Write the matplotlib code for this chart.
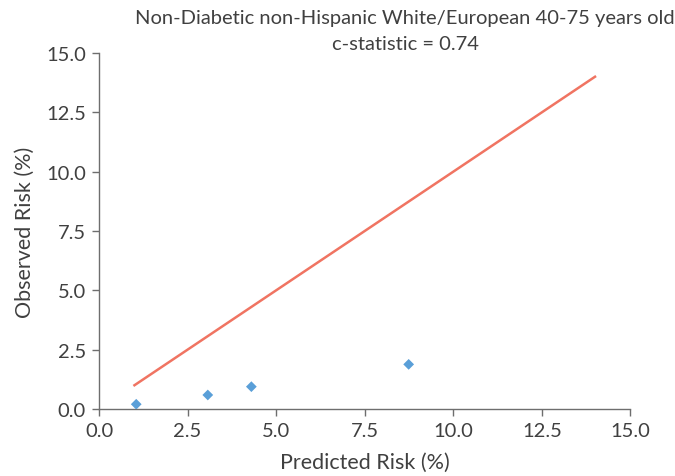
import matplotlib
matplotlib.use("Agg")
import matplotlib.pyplot as plt

plt.rcParams['font.family'] = ['Lato', 'DejaVu Sans']

# Calibration data: predicted vs observed risk by decile group
predicted = [1.05, 3.07, 4.30, 8.74]
observed = [0.20, 0.59, 0.94, 1.88]

# Reference line of perfect calibration
ref_line = [1.0, 14.0]

ticks = [0.0, 2.5, 5.0, 7.5, 10.0, 12.5, 15.0]
tick_labels = ["0.0", "2.5", "5.0", "7.5", "10.0", "12.5", "15.0"]

text_color = "#404040"
spine_color = "#6e6e6e"

fig = plt.figure(figsize=(6.75, 4.77), dpi=100)
ax = fig.add_axes([0.1467, 0.1405, 0.7873, 0.7463])

ax.plot(ref_line, ref_line, color="#f07462", linewidth=1.8, zorder=2)
ax.scatter(predicted, observed, marker="D", s=30, color="#5a9fd8",
           edgecolors="none", zorder=3)

ax.set_xlim(0, 15)
ax.set_ylim(0, 15)
ax.set_xticks(ticks)
ax.set_xticklabels(tick_labels)
ax.set_yticks(ticks)
ax.set_yticklabels(tick_labels)

for side in ("top", "right"):
    ax.spines[side].set_visible(False)
for side in ("left", "bottom"):
    ax.spines[side].set_color(spine_color)
    ax.spines[side].set_linewidth(1.0)

ax.tick_params(axis="both", direction="out", length=5, width=1.0,
               color=spine_color, labelcolor=text_color, labelsize=14.5, pad=4.5)

ax.set_xlabel("Predicted Risk (%)", fontsize=15.5, color=text_color, labelpad=9)
ax.set_ylabel("Observed Risk (%)", fontsize=15.5, color=text_color, labelpad=8)

fig.text(0.60, 0.961, "Non-Diabetic non-Hispanic White/European 40-75 years old",
         ha="center", va="center", fontsize=14.5, color=text_color)
fig.text(0.60, 0.906, "c-statistic = 0.74",
         ha="center", va="center", fontsize=14.5, color=text_color)

fig.savefig("out.png", dpi=100)
